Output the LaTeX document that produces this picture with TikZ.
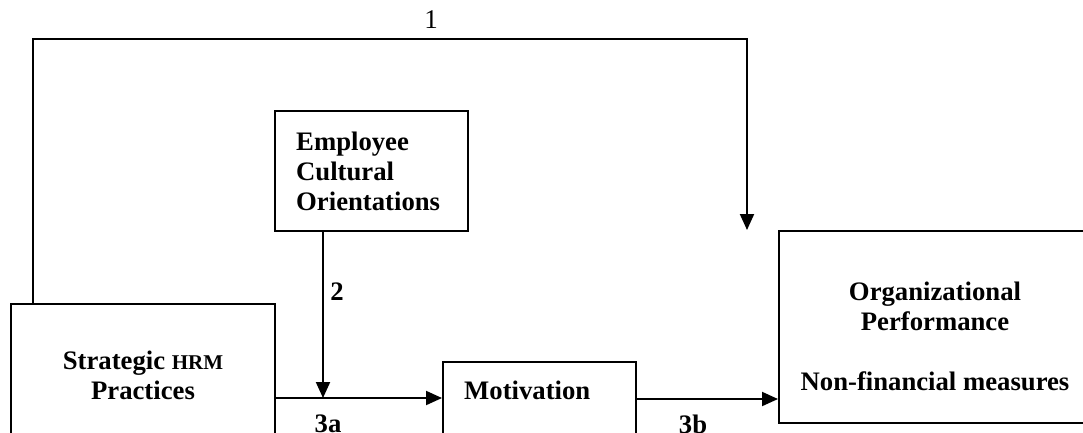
\documentclass[tikz,border=0pt]{standalone}
\usepackage{fontspec}
\setmainfont{Liberation Serif}
\usetikzlibrary{arrows.meta,calc}
\begin{document}
\begin{tikzpicture}[x=1pt,y=-1pt,
  box/.style={draw,line width=2pt,inner sep=0pt,rectangle},
  lbl/.style={font=\fontsize{26.7}{30}\selectfont\bfseries,inner sep=0pt},
  num/.style={font=\fontsize{27}{30}\selectfont,inner sep=0pt},
  con/.style={line width=2pt},
  arr/.style={line width=2pt,-{Triangle[length=16pt,width=14pt]}}]
\useasboundingbox (0,0) rectangle (1083,432);
\clip (0,0) rectangle (1083,432);
% boxes
\node[box,minimum width=264pt,minimum height=142pt] (strat) at (143,375) {};
\node[box,minimum width=193pt,minimum height=120pt] (emp) at (371.5,171) {};
\node[box,minimum width=193pt,minimum height=88pt] (mot) at (539.5,406) {};
\node[box,minimum width=312pt,minimum height=192pt] (org) at (935,327) {};
% texts
\node[lbl,align=center] (strattext) at (143,375) {Strategic {\fontsize{21}{30}\selectfont HRM}\\Practices};
\node[lbl,align=left,anchor=west] (emptext) at (296,171) {Employee\\Cultural\\Orientations};
\node[lbl,anchor=west] (mottext) at (464,390) {Motivation};
\node[lbl,align=center] (orgtext) at (935,336) {Organizational\\Performance\\[30pt]Non-financial measures};
% coordinates
\coordinate (t1) at (33,39);
\coordinate (t2) at (747,39);
\coordinate (j) at (323,398);
\coordinate (k) at (0,399);
% connectors
\draw[arr] (t1 |- strat.north) -- (t1) -- (t2) -- (t2 |- org.north);
\draw[arr] (j |- emp.south) -- (j);
\draw[arr] (strat.east |- j) -- (mot.west |- j);
\draw[arr] (mot.east |- k) -- (org.west |- k);
% labels
\node[num] (l1) at (431,20) {1};
\node[lbl] (l2) at (337,292) {2};
\node[lbl] (l3a) at (328,424) {3a};
\node[lbl] (l3b) at (693,424) {3b};
\end{tikzpicture}
\end{document}
